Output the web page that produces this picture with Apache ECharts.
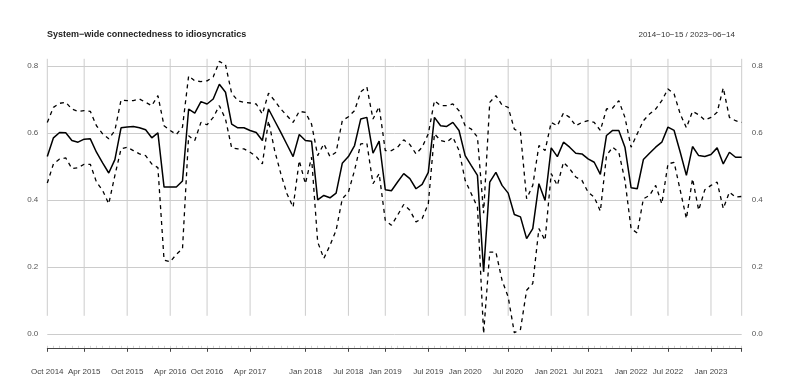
<!DOCTYPE html>
<html>
<head>
<meta charset="utf-8">
<script src="https://cdn.jsdelivr.net/npm/echarts@6/dist/echarts.min.js"></script>
<style>
  html, body { margin: 0; padding: 0; background: #fff; }
  #chart { width: 789px; height: 382px; }
</style>
</head>
<body>
<div id="chart"></div>
<script>
// 4-weekly observations, 2014-10-15 .. 2023-06-14
var startDate = '2014-10-15'
var stepDays = 28
var nObs = 114

var mid = [
  0.529, 0.585, 0.601, 0.600, 0.577, 0.572, 0.581, 0.582, 0.542, 0.510,
  0.480, 0.520, 0.615, 0.617, 0.619, 0.615, 0.609, 0.585, 0.600, 0.438,
  0.438, 0.438, 0.456, 0.671, 0.659, 0.693, 0.686, 0.701, 0.745, 0.721,
  0.626, 0.615, 0.615, 0.607, 0.601, 0.577, 0.671, 0.636, 0.601, 0.565,
  0.529, 0.595, 0.577, 0.575, 0.400, 0.413, 0.406, 0.420, 0.509, 0.529,
  0.562, 0.641, 0.646, 0.539, 0.575, 0.430, 0.427, 0.453, 0.478, 0.463,
  0.433, 0.446, 0.482, 0.646, 0.621, 0.619, 0.631, 0.607, 0.532, 0.502,
  0.473, 0.185, 0.453, 0.482, 0.443, 0.420, 0.356, 0.349, 0.284, 0.314,
  0.448, 0.398, 0.555, 0.529, 0.572, 0.557, 0.539, 0.537, 0.522, 0.512,
  0.476, 0.592, 0.607, 0.607, 0.557, 0.436, 0.433, 0.520, 0.539, 0.557,
  0.572, 0.617, 0.607, 0.542, 0.473, 0.559, 0.532, 0.529, 0.535, 0.555,
  0.507, 0.542, 0.527, 0.527
]
var upper = [
  0.631, 0.676, 0.688, 0.691, 0.671, 0.664, 0.666, 0.664, 0.621, 0.597,
  0.582, 0.607, 0.698, 0.696, 0.696, 0.701, 0.691, 0.681, 0.711, 0.621,
  0.607, 0.595, 0.617, 0.770, 0.755, 0.753, 0.755, 0.767, 0.813, 0.803,
  0.718, 0.696, 0.691, 0.689, 0.686, 0.656, 0.718, 0.696, 0.671, 0.651,
  0.631, 0.664, 0.661, 0.626, 0.532, 0.567, 0.529, 0.542, 0.636, 0.648,
  0.666, 0.722, 0.737, 0.641, 0.678, 0.547, 0.547, 0.557, 0.579, 0.565,
  0.537, 0.557, 0.597, 0.696, 0.681, 0.681, 0.686, 0.666, 0.621, 0.611,
  0.587, 0.360, 0.691, 0.711, 0.683, 0.676, 0.611, 0.601, 0.403, 0.443,
  0.562, 0.547, 0.631, 0.621, 0.659, 0.646, 0.621, 0.631, 0.636, 0.631,
  0.607, 0.671, 0.674, 0.696, 0.646, 0.557, 0.597, 0.636, 0.656, 0.671,
  0.696, 0.731, 0.716, 0.656, 0.615, 0.664, 0.654, 0.638, 0.646, 0.661,
  0.734, 0.646, 0.636, 0.631
]
var lower = [
  0.450, 0.507, 0.522, 0.525, 0.493, 0.496, 0.506, 0.506, 0.453, 0.428,
  0.388, 0.473, 0.552, 0.557, 0.547, 0.537, 0.532, 0.507, 0.496, 0.220,
  0.215, 0.237, 0.254, 0.591, 0.577, 0.631, 0.624, 0.646, 0.681, 0.641,
  0.555, 0.552, 0.552, 0.542, 0.529, 0.507, 0.636, 0.547, 0.478, 0.418,
  0.378, 0.517, 0.448, 0.527, 0.274, 0.225, 0.264, 0.309, 0.403, 0.423,
  0.488, 0.567, 0.569, 0.448, 0.478, 0.339, 0.324, 0.354, 0.386, 0.369,
  0.334, 0.344, 0.388, 0.597, 0.577, 0.572, 0.587, 0.547, 0.458, 0.418,
  0.378, 0.001, 0.244, 0.244, 0.160, 0.110, 0.003, 0.013, 0.130, 0.150,
  0.314, 0.279, 0.478, 0.443, 0.512, 0.493, 0.468, 0.458, 0.423, 0.408,
  0.366, 0.532, 0.557, 0.542, 0.458, 0.314, 0.301, 0.403, 0.413, 0.443,
  0.388, 0.507, 0.512, 0.428, 0.344, 0.463, 0.369, 0.430, 0.443, 0.453,
  0.374, 0.423, 0.408, 0.410
]

var tickLabels = ['Oct 2014', 'Apr 2015', 'Oct 2015', 'Apr 2016', 'Oct 2016', 'Apr 2017',
  'Jan 2018', 'Jul 2018', 'Jan 2019', 'Jul 2019', 'Jan 2020', 'Jul 2020',
  'Jan 2021', 'Jul 2021', 'Jan 2022', 'Jul 2022', 'Jan 2023']
var yTicks = [0, 0.2, 0.4, 0.6, 0.8]

var monthNames = ['Jan','Feb','Mar','Apr','May','Jun','Jul','Aug','Sep','Oct','Nov','Dec']
var dates = []
var t0 = Date.parse(startDate + 'T00:00:00Z')
for (var i = 0; i < nObs; i++) {
  dates.push(new Date(t0 + i * stepDays * 86400000))
}
var cats = dates.map(function (d) { return d.toISOString().slice(0, 10) })

// first observation of each labelled month gets the tick
var labelAt = {}
var majorIdx = []
for (var i = 0; i < nObs; i++) {
  var d = dates[i]
  var lab = monthNames[d.getUTCMonth()] + ' ' + d.getUTCFullYear()
  var prev = i > 0 ? monthNames[dates[i-1].getUTCMonth()] + ' ' + dates[i-1].getUTCFullYear() : null
  if (tickLabels.indexOf(lab) >= 0 && lab !== prev) {
    labelAt[i] = lab
    majorIdx.push(i)
  }
}
majorIdx.push(nObs - 1)

var font = '"Liberation Sans", Arial, Helvetica, sans-serif'
var gray = '#cccccc'

var chart = echarts.init(document.getElementById('chart'), null, { renderer: 'canvas' })
var option = {
  animation: false,
  backgroundColor: '#ffffff',
  title: [{
    text: 'System\u2212wide connectedness to idiosyncratics',
    left: 47, top: 30, padding: 0,
    textStyle: { fontFamily: font, fontSize: 9, fontWeight: 'bold', color: '#222' }
  }, {
    text: '2014\u221210\u221215 / 2023\u221206\u221214',
    right: 54, top: 31, padding: 0,
    textStyle: { fontFamily: font, fontSize: 8, fontWeight: 'normal', color: '#333' }
  }],
  grid: { left: 47.3, right: 47.3, top: 65.8, bottom: 48.2 },
  xAxis: [{
    type: 'category',
    data: cats,
    boundaryGap: false,
    position: 'bottom',
    offset: 14,
    axisLine: { onZero: false, lineStyle: { color: '#444', width: 1 } },
    axisTick: {
      length: 4,
      interval: function (idx) { return majorIdx.indexOf(idx) >= 0 },
      lineStyle: { color: '#444' }
    },
    axisLabel: {
      interval: function (idx) { return labelAt[idx] !== undefined },
      formatter: function (v, idx) { return labelAt[idx] || '' },
      fontFamily: font, fontSize: 8, color: '#444', margin: 20
    },
    splitLine: { show: false }
  }, {
    type: 'category',
    data: cats,
    boundaryGap: false,
    position: 'bottom',
    offset: 14,
    axisLine: { show: false, onZero: false },
    axisTick: { show: true, inside: true, interval: 0, length: 2, lineStyle: { color: '#d0d0d0' } },
    axisLabel: { show: false },
    splitLine: { show: false }
  }],
  yAxis: [{
    type: 'value', min: 0, max: 0.8, interval: 0.2, position: 'left',
    axisLine: { show: false }, axisTick: { show: false },
    axisLabel: { formatter: function (v) { return v.toFixed(1) }, fontFamily: font, fontSize: 8, color: '#555', margin: 9 },
    splitLine: { lineStyle: { color: gray, width: 1 } }
  }, {
    type: 'value', min: 0, max: 0.8, interval: 0.2, position: 'right',
    axisLine: { show: false }, axisTick: { show: false },
    axisLabel: { formatter: function (v) { return v.toFixed(1) }, fontFamily: font, fontSize: 8, color: '#555', margin: 10 },
    splitLine: { show: false }
  }],
  series: [{
    // vertical grid lines at the major ticks
    type: 'custom',
    silent: true,
    clip: false,
    z: 1,
    data: majorIdx.map(function (i) { return [i, 0] }),
    encode: { x: 0, y: 1 },
    renderItem: function (params, api) {
      var top = api.coord([api.value(0), 0.8])
      var bot = api.coord([api.value(0), 0])
      return {
        type: 'line',
        shape: { x1: top[0], y1: top[1] - 7, x2: bot[0], y2: bot[1] - 18 },
        style: { stroke: gray, lineWidth: 1 }
      }
    }
  }, {
    name: 'upper', type: 'line', data: upper, showSymbol: false, clip: false, z: 3,
    lineStyle: { color: '#000', width: 1.3, type: [4, 4] }
  }, {
    name: 'lower', type: 'line', data: lower, showSymbol: false, clip: false, z: 3,
    lineStyle: { color: '#000', width: 1.3, type: [4, 4] }
  }, {
    name: 'mid', type: 'line', data: mid, showSymbol: false, clip: false, z: 4,
    lineStyle: { color: '#000', width: 1.5 }
  }]
}
chart.setOption(option)
</script>
</body>
</html>
